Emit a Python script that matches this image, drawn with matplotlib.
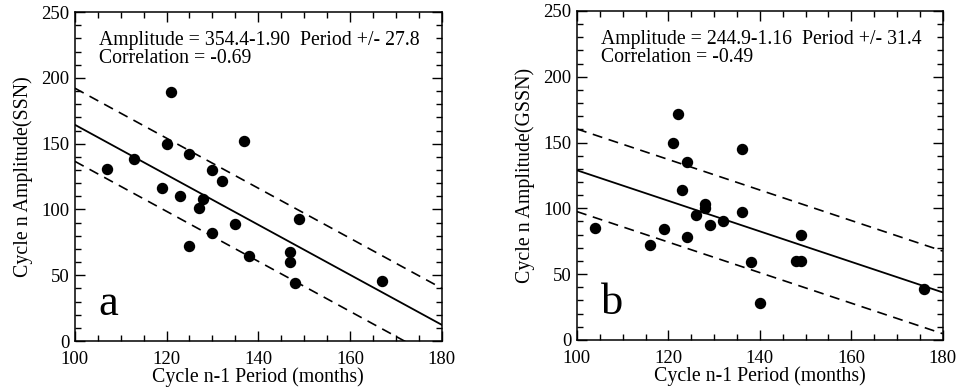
import matplotlib
matplotlib.use("Agg")
import matplotlib.pyplot as plt
from matplotlib.ticker import MultipleLocator
import numpy as np

plt.rcParams["font.family"] = ["Liberation Serif", "DejaVu Serif"]
plt.rcParams["font.size"] = 13.5

# panel a: SSN
period_a = [121, 137, 120, 125, 113, 107, 130, 132, 119, 123, 128,
            127, 149, 135, 130, 125, 138, 147, 147, 148, 167]
amp_a = [189, 152, 150, 142, 138, 131, 130, 122, 116, 110, 108,
         101, 93, 89, 82, 72, 65, 68, 60, 44, 46]
fit_a = (354.4, -1.90, 27.8)
text_a = ["Amplitude = 354.4-1.90  Period +/- 27.8", "Correlation = -0.69"]

# panel b: GSSN
period_b = [122, 121, 136, 124, 123, 128, 128, 126, 136, 132, 129,
            104, 119, 149, 124, 116, 138, 148, 149, 140, 176]
amp_b = [172, 150, 145, 135, 114, 103, 100, 95, 97, 90, 87,
         85, 84, 80, 78, 72, 59, 60, 60, 28, 39]
fit_b = (244.9, -1.16, 31.4)
text_b = ["Amplitude = 244.9-1.16  Period +/- 31.4", "Correlation = -0.49"]

ylabels = ["Cycle n Amplitude(SSN)", "Cycle n Amplitude(GSSN)"]
letters = ["a", "b"]

fig = plt.figure(figsize=(9.6, 3.92), dpi=100)
ax_a = fig.add_axes([0.078, 0.130, 0.382, 0.839])
ax_b = fig.add_axes([0.601, 0.133, 0.381, 0.839])

panels = [
    (ax_a, period_a, amp_a, fit_a, text_a),
    (ax_b, period_b, amp_b, fit_b, text_b),
]

xx = np.array([100, 180])
for i, (ax, px, py, fit, txt) in enumerate(panels):
    a0, slope, err = fit
    yfit = a0 + slope * xx
    ax.plot(xx, yfit, color="black", lw=1.3)
    for s in (-1, 1):
        ax.plot(xx, yfit + s * err, color="black", lw=1.2, dashes=(6, 4))
    ax.plot(px, py, "o", color="black", ms=7.2, mec="black")

    ax.set_xlim(100, 180)
    ax.set_ylim(0, 250)
    ax.xaxis.set_major_locator(MultipleLocator(20))
    ax.xaxis.set_minor_locator(MultipleLocator(5))
    ax.yaxis.set_major_locator(MultipleLocator(50))
    ax.yaxis.set_minor_locator(MultipleLocator(10))
    ax.tick_params(which="both", direction="in", top=True, right=True, labelsize=13.5)
    ax.tick_params(which="major", length=7, width=1)
    ax.tick_params(which="minor", length=4, width=1)
    ax.tick_params(axis="x", which="major", pad=7)
    ax.tick_params(axis="y", which="major", pad=4)
    for sp in ax.spines.values():
        sp.set_linewidth(1.1)

    ax.set_xlabel("Cycle n-1 Period (months)", fontsize=14.3, labelpad=0)
    ax.set_ylabel(ylabels[i], fontsize=14.3, labelpad=6)
    ax.text(0.065, 0.943, txt[0] + "\n" + txt[1], transform=ax.transAxes,
            va="top", ha="left", fontsize=14.2, linespacing=0.95)
    ax.text(0.065, 0.08, letters[i], transform=ax.transAxes,
            va="baseline", ha="left", fontsize=32)

fig.savefig("out.png", dpi=100)
